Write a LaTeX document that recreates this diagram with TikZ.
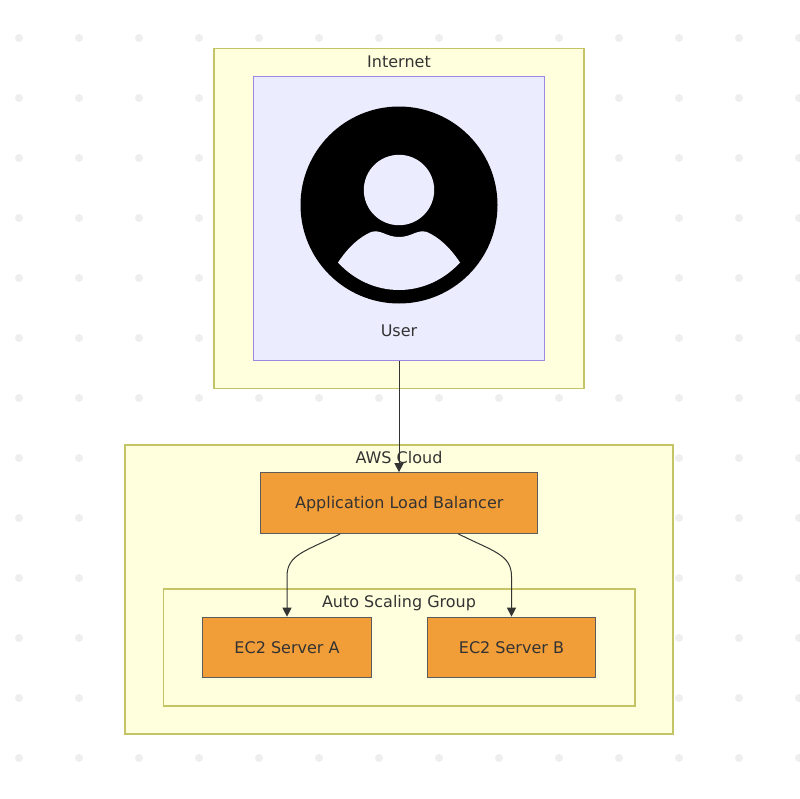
\documentclass[tikz,border=0pt]{standalone}
\usepackage{fontspec}
\setmainfont{DejaVu Sans}
\usetikzlibrary{arrows.meta, positioning, calc}
\definecolor{clusterfill}{HTML}{FFFFDE}
\definecolor{clusterline}{HTML}{C4C467}
\definecolor{usrfill}{HTML}{ECECFF}
\definecolor{usrline}{HTML}{9F86DF}
\definecolor{awsfill}{HTML}{F19D38}
\definecolor{txt}{HTML}{333333}
\definecolor{griddot}{HTML}{EEEEEE}

\begin{document}
\begin{tikzpicture}[
        x=1pt, y=-1pt,
        cluster/.style={draw=clusterline, fill=clusterfill, rectangle, line width=1.1pt, inner sep=0pt},
        usrbox/.style={draw=usrline, fill=usrfill, rectangle, line width=1.1pt, inner sep=0pt},
        aws/.style={draw=txt!80, fill=awsfill, rectangle, line width=1.2pt, minimum height=60.5pt, inner sep=0pt, text=txt, text height=11.5pt, text depth=0pt, font=\fontsize{16}{19}\selectfont},
        title/.style={text=txt, inner sep=0pt, font=\fontsize{16}{19}\selectfont},
        flow/.style={draw=txt, line width=1pt, -{Triangle[length=9pt, width=9pt]}}
    ]
        \useasboundingbox (0,0) rectangle (800,798);

        % Dot grid
        \foreach \i in {0,...,13}
            \foreach \j in {0,...,12}
                \fill[griddot] (19+60*\i, 38+60*\j) circle (4);

        % Internet
        \node[cluster, minimum width=370pt, minimum height=340.5pt] (internet) at (399, 218.5) {};
        \node[title] (internetlabel) at (399, 61.5) {Internet};
        \node[usrbox, minimum width=291.5pt, minimum height=284.5pt] (user) at (399, 218.5) {};

        % Person icon
        \fill[black] (399, 205) circle (98.5);
        \fill[usrfill] (399, 190) circle (35.2);
        \fill[usrfill] (338, 262.5) .. controls (349, 246) and (360, 237) .. (371, 232)
            .. controls (381, 229) and (386, 237) .. (399, 237)
            .. controls (412, 237) and (417, 229) .. (427, 232)
            .. controls (438, 237) and (449, 246) .. (460, 262.5)
            .. controls (444, 280) and (422, 290) .. (399, 290)
            .. controls (376, 290) and (354, 280) .. (338, 262.5) -- cycle;
        \node[title] (userlabel) at (399, 330.5) {User};

        % AWS Cloud
        \node[cluster, minimum width=548pt, minimum height=289pt] (cloud) at (399, 589.5) {};
        \node[title] (cloudlabel) at (399, 457.5) {AWS Cloud};

        % Auto Scaling Group
        \node[cluster, minimum width=471.5pt, minimum height=117pt] (asg) at (399.25, 647.5) {};
        \node[title] (asglabel) at (399, 603) {Auto Scaling Group};

        \node[aws, minimum width=277pt] (alb) at (399.25, 503) {Application Load Balancer};
        \node[aws, minimum width=168.5pt] (srva) at (287, 647.5) {EC2 Server A};
        \node[aws, minimum width=168.5pt] (srvb) at (511.5, 647.5) {EC2 Server B};

        % Connectors
        \draw[flow] (user.south) -- (user.south |- alb.north);
        \draw[flow] ([xshift=-59pt]alb.south) .. controls +(-36,18) and +(0,-22) .. ($(srva.north)+(0,-40)$) -- (srva.north);
        \draw[flow] ([xshift=59pt]alb.south) .. controls +(36,18) and +(0,-22) .. ($(srvb.north)+(0,-40)$) -- (srvb.north);

    \end{tikzpicture}
\end{document}
